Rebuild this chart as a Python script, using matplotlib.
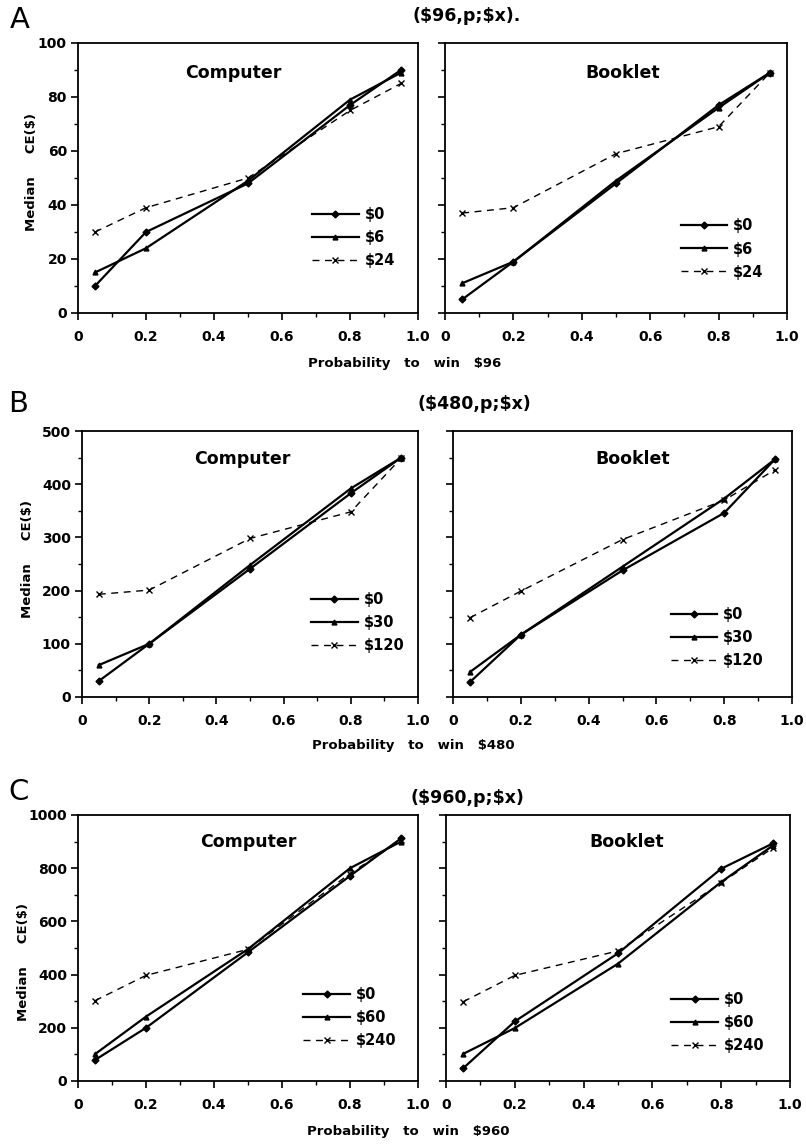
import numpy as np
import matplotlib
matplotlib.use("Agg")
import matplotlib.pyplot as plt
from matplotlib.ticker import MultipleLocator

plt.rcParams['font.family'] = ['DejaVu Sans']
plt.rcParams['font.weight'] = 'bold'

# probabilities used in every panel
probs = [0.05, 0.2, 0.5, 0.8, 0.95]

# panel A ($96)
a_labels = ["$0", "$6", "$24"]
a_comp_0 = [10, 30, 48, 77, 90]
a_comp_6 = [15, 24, 49, 79, 89]
a_comp_24 = [30, 39, 50, 75, 85]
a_book_0 = [5, 19, 48, 77, 89]
a_book_6 = [11, 19, 49, 76, 89]
a_book_24 = [37, 39, 59, 69, 89]

# panel B ($480)
b_labels = ["$0", "$30", "$120"]
b_comp_0 = [30, 100, 241, 383, 450]
b_comp_30 = [60, 100, 248, 392, 450]
b_comp_120 = [193, 201, 298, 348, 449]
b_book_0 = [28, 117, 238, 346, 447]
b_book_30 = [47, 117, 245, 373, 447]
b_book_120 = [149, 199, 296, 370, 427]

# panel C ($960)
c_labels = ["$0", "$60", "$240"]
c_comp_0 = [79, 200, 484, 771, 912]
c_comp_60 = [101, 242, 496, 800, 900]
c_comp_240 = [302, 397, 495, 780, 905]
c_book_0 = [48, 224, 480, 798, 893]
c_book_60 = [102, 199, 441, 748, 885]
c_book_240 = [298, 397, 489, 745, 876]

W, H = 806, 1145
fig = plt.figure(figsize=(W / 100, H / 100), dpi=100)


def px_axes(l, r, t, b):
    return fig.add_axes([l / W, 1 - b / H, (r - l) / W, (b - t) / H])


def draw(ax, s0, s1, s2, labels, ymax, ystep, name, name_xy, leg_xy, show_y):
    ax.plot(probs, s0, color='black', lw=1.6, marker='D', ms=3.5, label=labels[0])
    ax.plot(probs, s1, color='black', lw=1.6, marker='^', ms=3.5, label=labels[1])
    ax.plot(probs, s2, color='black', lw=1.0, ls=(0, (5, 4)), marker='x', ms=4,
            mew=1.0, label=labels[2])
    ax.set_xlim(0, 1.0)
    ax.set_ylim(0, ymax)
    ax.xaxis.set_major_locator(MultipleLocator(0.2))
    ax.xaxis.set_minor_locator(MultipleLocator(0.1))
    ax.yaxis.set_major_locator(MultipleLocator(ystep))
    ax.yaxis.set_minor_locator(MultipleLocator(ystep / 2))
    ax.set_xticks([0, 0.2, 0.4, 0.6, 0.8, 1.0])
    ax.set_xticklabels(["0", "0.2", "0.4", "0.6", "0.8", "1.0"])
    ax.tick_params(which='major', direction='out', length=5, width=1.2,
                   labelsize=10, pad=3)
    ax.tick_params(axis='x', which='major', pad=7)
    ax.tick_params(which='minor', direction='out', length=3, width=1.0)
    if not show_y:
        ax.tick_params(axis='y', labelleft=False)
    for lab in ax.get_xticklabels() + ax.get_yticklabels():
        lab.set_fontweight('bold')
    for sp in ax.spines.values():
        sp.set_linewidth(1.3)
    ax.text(name_xy[0], name_xy[1], name, transform=ax.transAxes, ha='center',
            va='center', fontsize=12.5, fontweight='bold')
    ax.legend(loc='center', bbox_to_anchor=leg_xy, frameon=False,
              handlelength=3.2, handletextpad=0.4, labelspacing=0.55,
              borderpad=0, prop={'weight': 'bold', 'size': 10.5})


# panel A
ax = px_axes(78, 418, 43, 313)
draw(ax, a_comp_0, a_comp_6, a_comp_24, a_labels, 100, 20, "Computer",
     (0.456, 0.89), (0.81, 0.28), True)
ax = px_axes(445, 787, 43, 313)
draw(ax, a_book_0, a_book_6, a_book_24, a_labels, 100, 20, "Booklet",
     (0.52, 0.89), (0.81, 0.237), False)

# panel B
ax = px_axes(82, 418, 431, 697)
draw(ax, b_comp_0, b_comp_30, b_comp_120, b_labels, 500, 100, "Computer",
     (0.476, 0.895), (0.82, 0.28), True)
ax = px_axes(453, 792, 431, 697)
draw(ax, b_book_0, b_book_30, b_book_120, b_labels, 500, 100, "Booklet",
     (0.53, 0.895), (0.78, 0.225), False)

# panel C
ax = px_axes(78, 418, 815, 1081)
draw(ax, c_comp_0, c_comp_60, c_comp_240, c_labels, 1000, 200, "Computer",
     (0.5, 0.9), (0.80, 0.24), True)
ax = px_axes(446, 790, 815, 1081)
draw(ax, c_book_0, c_book_60, c_book_240, c_labels, 1000, 200, "Booklet",
     (0.526, 0.9), (0.79, 0.22), False)

# letters, titles, shared labels
for letter, x, y in [("A", 10, 20), ("B", 8, 404), ("C", 8, 792)]:
    fig.text(x / W, 1 - y / H, letter, fontsize=21, fontweight='normal',
             va='center', ha='left')
for title, x, y in [(r"(\$96,p;\$x).", 413, 16), (r"(\$480,p;\$x)", 417, 404),
                    (r"(\$960,p;\$x)", 410, 798)]:
    fig.text(x / W, 1 - y / H, title, fontsize=12.5, fontweight='bold',
             va='center', ha='left')
for xl, x, y in [("Probability   to   win   $96", 405, 364),
                 ("Probability   to   win   $480", 413, 745),
                 ("Probability   to   win   $960", 408, 1132)]:
    fig.text(x / W, 1 - y / H, xl, fontsize=9.5, fontweight='bold',
             va='center', ha='center')
for x, y in [(32, 172), (28, 559), (24, 962)]:
    fig.text(x / W, 1 - y / H, "Median     CE($)", fontsize=9.5,
             fontweight='bold', rotation=90, va='center', ha='center')

fig.savefig("out.png", dpi=100)
